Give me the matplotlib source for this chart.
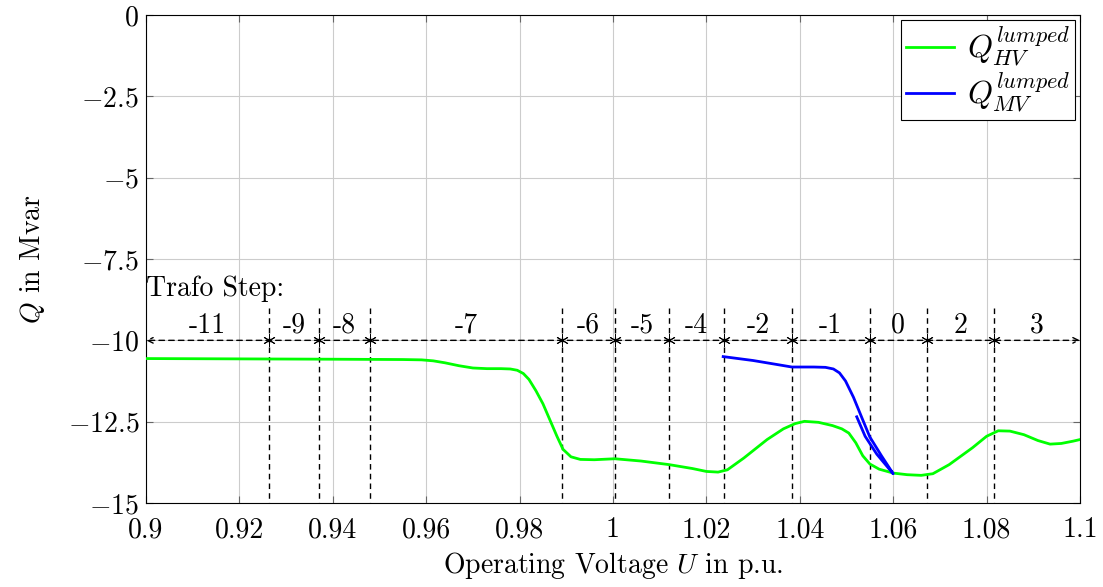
import numpy as np
import matplotlib.pyplot as plt
from matplotlib.ticker import FuncFormatter

# Fonts: Computer Modern look
plt.rcParams['font.family'] = ['cmr10', 'DejaVu Serif']
plt.rcParams['mathtext.fontset'] = 'cm'
plt.rcParams['axes.formatter.use_mathtext'] = True

# Data
step_bounds = [0.9263, 0.9370, 0.9480, 0.9891, 1.0004, 1.0120, 1.0238, 1.0383, 1.0550, 1.0672, 1.0816]
step_labels = ['-11', '-9', '-8', '-7', '-6', '-5', '-4', '-2', '-1', '0', '2', '3']

u_hv = [0.900, 0.920, 0.940, 0.955, 0.9590, 0.9615, 0.964, 0.967, 0.970, 0.973, 0.976, 0.978,
        0.9795, 0.9808, 0.9820, 0.9835, 0.985, 0.9865, 0.9880, 0.9893, 0.9910, 0.9930, 0.9960,
        1.0004, 1.0060, 1.0120, 1.0170, 1.0200, 1.0225, 1.0245, 1.0280, 1.0330, 1.0365,
        1.0390, 1.0410, 1.0440, 1.0470, 1.0490, 1.0505, 1.0520, 1.0535, 1.0550, 1.0570,
        1.0600, 1.0630, 1.0660, 1.0685, 1.0720, 1.0770, 1.0800, 1.0825, 1.0850, 1.0880,
        1.0910, 1.0936, 1.0960, 1.0985, 1.1000]
q_hv = [-10.56, -10.57, -10.58, -10.59, -10.60, -10.63, -10.69, -10.78, -10.85, -10.87, -10.87, -10.88,
        -10.92, -11.02, -11.20, -11.55, -11.95, -12.45, -12.95, -13.35, -13.58, -13.66, -13.67,
        -13.64, -13.71, -13.82, -13.94, -14.03, -14.05, -13.98, -13.62, -13.05, -12.72,
        -12.56, -12.49, -12.52, -12.62, -12.72, -12.85, -13.15, -13.55, -13.80, -13.96,
        -14.08, -14.13, -14.15, -14.10, -13.82, -13.30, -12.95, -12.78, -12.79, -12.90,
        -13.08, -13.19, -13.17, -13.10, -13.05]

u_mv = [1.0236, 1.0300, 1.0350, 1.0383, 1.0430, 1.0455, 1.0472, 1.0485, 1.0498, 1.0515, 1.0535, 1.0550,
        1.0575, 1.0600, 1.0565, 1.0540, 1.0522]
q_mv = [-10.50, -10.62, -10.74, -10.82, -10.82, -10.83, -10.88, -11.00, -11.25, -11.75, -12.45, -12.97,
        -13.55, -14.10, -13.50, -12.95, -12.35]

fig = plt.figure(figsize=(11.03, 5.87), dpi=100)
ax = fig.add_axes([0.1324, 0.1431, 0.8467, 0.8313])

ax.plot(u_hv, q_hv, color='#00ff00', lw=2.0, label=r'$Q_{HV}^{lumped}$', zorder=4)
ax.plot(u_mv, q_mv, color='#0000ff', lw=2.0, label=r'$Q_{MV}^{lumped}$', zorder=5)

# trafo step annotations
for b in step_bounds:
    ax.plot([b, b], [-9.0, -15.0], color='black', ls=(0, (4, 3)), lw=1.0, zorder=3)
ax.annotate('', xy=(0.9, -10), xytext=(1.1, -10),
            arrowprops=dict(arrowstyle='<->', ls=(0, (4, 3)), lw=1.0, color='black',
                            shrinkA=0, shrinkB=0))
ax.plot(step_bounds, [-10] * len(step_bounds), ls='none', marker=(6, 2, 0), ms=9,
        mew=0.7, color='black', zorder=3)
edges = [0.9] + step_bounds + [1.1]
for i, lab in enumerate(step_labels):
    ax.text((edges[i] + edges[i + 1]) / 2, -9.55, lab, ha='center', va='center', fontsize=20)
ax.text(0.9, -8.4, 'Trafo Step:', ha='left', va='center', fontsize=20)

ax.set_xlim(0.9, 1.1)
ax.set_ylim(-15, 0)
ax.set_xticks(np.arange(0.9, 1.1001, 0.02))
ax.set_yticks([0, -2.5, -5, -7.5, -10, -12.5, -15])
ax.xaxis.set_major_formatter(FuncFormatter(lambda v, p: '%g' % round(v, 2)))
ax.yaxis.set_major_formatter(FuncFormatter(lambda v, p: '$%g$' % v))
ax.tick_params(direction='in', length=5, top=True, right=True, color='#666666', labelsize=20)
ax.tick_params(axis='x', pad=10)
ax.tick_params(axis='y', pad=5)
ax.grid(True, color='#cccccc', lw=0.8)
ax.set_axisbelow(True)

ax.set_xlabel(r'Operating Voltage $U$ in p.u.', fontsize=20, labelpad=5)
ax.set_ylabel(r'$Q$ in Mvar', fontsize=20, labelpad=15)

leg = ax.legend(loc='upper right', fontsize=23, fancybox=False, edgecolor='black',
                framealpha=1, handlelength=1.5, handletextpad=0.4, borderpad=0.15,
                labelspacing=0.05, borderaxespad=0.15)
leg.get_frame().set_linewidth(0.8)

fig.savefig('out.png', dpi=100)
